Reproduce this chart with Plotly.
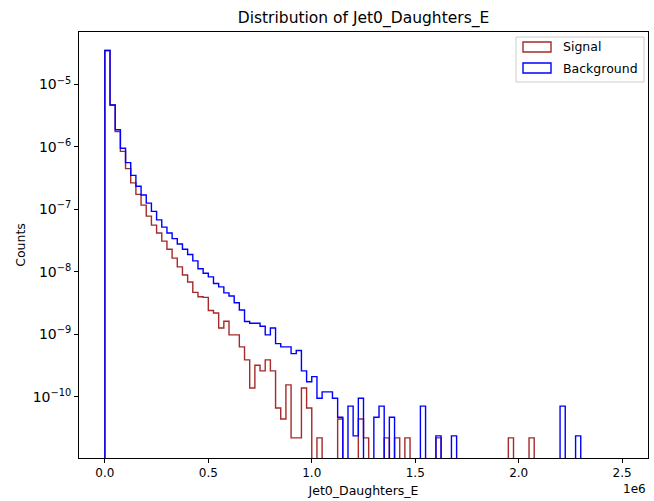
import numpy as np
import plotly.graph_objects as go

# ---- data (density per bin, 100 bins of width 25,000 from 0 to 2.5e6) ----
bin_start = 0.0
bin_stop = 2.5e6
n_bins = 100

signal_density = [
    3.5e-5, 4.7e-6, 1.77e-6, 8.5e-7, 4.5e-7, 2.66e-7, 1.74e-7, 1.17e-7, 7.8e-8, 5.6e-8,
    4.2e-8, 3.1e-8, 2.3e-8, 1.66e-8, 1.2e-8, 8.9e-9, 6.9e-9, 4.7e-9, 4.0e-9, 3.9e-9,
    2.4e-9, 2.2e-9, 1.26e-9, 1.62e-9, 9.8e-10, 9.8e-10, 6.3e-10, 3.9e-10, 1.38e-10, 3.2e-10,
    2.6e-10, 3.9e-10, 2.6e-10, 6.6e-11, 4.4e-11, 1.55e-10, 2.2e-11, 2.2e-11, 1.38e-10, 6.6e-11,
    0, 2.2e-11, 0, 0, 0, 4.4e-11, 0, 0, 0, 4.4e-11,
    2.2e-11, 0, 0, 0, 2.2e-11, 0, 2.2e-11, 0, 2.2e-11, 0,
    0, 0, 0, 0, 2.2e-11, 0, 0, 0, 0, 0,
    0, 0, 0, 0, 0, 0, 0, 0, 2.2e-11, 0,
    0, 0, 2.2e-11, 0, 0, 0, 0, 0, 0, 0,
    0, 0, 0, 0, 0, 0, 0, 0, 0, 0,
]

background_density = [
    3.5e-5, 4.7e-6, 1.88e-6, 9.5e-7, 5.6e-7, 3.5e-7, 2.35e-7, 1.7e-7, 1.26e-7, 9.3e-8,
    6.8e-8, 5.2e-8, 4.2e-8, 3.4e-8, 2.8e-8, 2.3e-8, 1.9e-8, 1.5e-8, 1.12e-8, 9.5e-9,
    8.3e-9, 6.5e-9, 5.75e-9, 4.6e-9, 4.1e-9, 3.2e-9, 2.45e-9, 1.6e-9, 1.5e-9, 1.5e-9,
    1.35e-9, 9.8e-10, 1.26e-9, 7.1e-10, 6.3e-10, 6.3e-10, 4.9e-10, 5.5e-10, 2.6e-10, 1.74e-10,
    2.1e-10, 9.5e-11, 1.2e-10, 1.2e-10, 9.5e-11, 4.7e-11, 0, 7.1e-11, 2.37e-11, 9.5e-11,
    0, 0, 4.7e-11, 7.1e-11, 0, 4.7e-11, 0, 0, 0, 0,
    0, 7.1e-11, 0, 0, 2.37e-11, 0, 0, 2.37e-11, 0, 0,
    0, 0, 0, 0, 0, 0, 0, 0, 0, 0,
    0, 0, 0, 0, 0, 0, 0, 0, 7.1e-11, 0,
    0, 2.37e-11, 0, 0, 0, 0, 0, 0, 0, 0,
]

series_names = ["Signal", "Background"]
series_colors = ["#a52a2a", "#0000ff"]

x_tick_values = [0, 0.5e6, 1.0e6, 1.5e6, 2.0e6, 2.5e6]
x_tick_labels = ["0.0", "0.5", "1.0", "1.5", "2.0", "2.5"]

y_tick_exponents = [-10, -9, -8, -7, -6, -5]
y_tick_values = [10.0 ** e for e in y_tick_exponents]
y_tick_labels = ["10<sup>\u2212%d</sup>" % (-e) for e in y_tick_exponents]

title_text = "Distribution of Jet0_Daughters_E"
x_label = "Jet0_Daughters_E"
y_label = "Counts"

# ---- build step outlines ----
edges = np.linspace(bin_start, bin_stop, n_bins + 1)
FLOOR = 1e-14  # below the visible range so zero bins drop out of view


def step_xy(vals):
    v = np.asarray(vals, dtype=float)
    v = np.where(v > 0, v, FLOOR)
    xs = np.concatenate([[edges[0]], edges[:-1], [edges[-1]]])
    ys = np.concatenate([[FLOOR], v, [FLOOR]])
    return xs, ys


fig = go.Figure()
for name, vals, col in zip(series_names, [signal_density, background_density], series_colors):
    xs, ys = step_xy(vals)
    fig.add_trace(go.Scatter(
        x=xs, y=ys, mode="lines", name=name,
        line=dict(color=col, width=1.4, shape="hv"),
        showlegend=False, hoverinfo="skip",
    ))

FONT = "DejaVu Sans"
W, H = 654, 501
ml, mr, mt, mb = 79, 6, 32, 43
PW = W - ml - mr
Y_RANGE = [-10.98, -4.16]

fig.update_layout(
    width=W, height=H,
    margin=dict(l=ml, r=mr, t=mt, b=mb),
    paper_bgcolor="white", plot_bgcolor="white",
    font=dict(family=FONT, size=12, color="black"),
    title=dict(text=title_text, x=(ml + (W - mr)) / 2 / W, xanchor="center",
               y=1 - 18 / H, yanchor="middle", font=dict(size=15.5, family=FONT)),
    showlegend=False,
)

fig.update_xaxes(
    range=[-0.125e6, 2.625e6],
    tickvals=x_tick_values, ticktext=x_tick_labels,
    ticks="outside", ticklen=4, tickwidth=1, tickcolor="black",
    showline=True, linecolor="black", linewidth=1, mirror=True,
    showgrid=False, zeroline=False,
    tickfont=dict(size=12, family=FONT),
    title=dict(text=x_label, font=dict(size=12.5, family=FONT), standoff=6),
)

fig.update_yaxes(
    type="log",
    range=Y_RANGE,
    tickmode="array", tickvals=y_tick_values, ticktext=y_tick_labels,
    ticks="outside", ticklen=4, tickwidth=1, tickcolor="black",
    showline=True, linecolor="black", linewidth=1, mirror=True,
    showgrid=False, zeroline=False,
    tickfont=dict(size=14, family=FONT),
    title=dict(text=y_label, font=dict(size=12.5, family=FONT), standoff=4),
)

# minor ticks (2..9 x 10^n) drawn as short outside marks on the left axis
for n in range(-12, -3):
    for k in range(2, 10):
        lv = np.log10(k * 10.0 ** n)
        if Y_RANGE[0] < lv < Y_RANGE[1]:
            fig.add_shape(type="line", xref="paper", yref="y",
                          x0=-2.2 / PW, x1=0, y0=lv, y1=lv,
                          line=dict(color="black", width=0.7), layer="above")

# offset text "1e6"
fig.add_annotation(text="1e6", xref="paper", yref="paper", x=1.0, y=0,
                   xanchor="right", yanchor="top", yshift=-22, showarrow=False,
                   font=dict(size=12, family=FONT))

# legend box in matplotlib style (outlined patches)
def px_to_paper(xp, yp):
    return (xp - ml) / PW, 1 - (yp - mt) / (H - mt - mb)

bx0, by0 = px_to_paper(516, 37)
bx1, by1 = px_to_paper(644, 82)
fig.add_shape(type="rect", xref="paper", yref="paper", x0=bx0, y0=by0, x1=bx1, y1=by1,
              line=dict(color="#cccccc", width=1), fillcolor="rgba(255,255,255,0.8)", layer="above")
for i, (name, col) in enumerate(zip(series_names, series_colors)):
    yc = 47 + i * 21
    px0, py0 = px_to_paper(523, yc - 5)
    px1, py1 = px_to_paper(551, yc + 5)
    fig.add_shape(type="rect", xref="paper", yref="paper", x0=px0, y0=py0, x1=px1, y1=py1,
                  line=dict(color=col, width=1.4), fillcolor="rgba(0,0,0,0)", layer="above")
    tx, ty = px_to_paper(561, yc)
    fig.add_annotation(text=name, xref="paper", yref="paper", x=tx, y=ty,
                       xanchor="left", yanchor="middle", showarrow=False,
                       font=dict(size=12.5, family=FONT))

fig.write_html("out.html")
